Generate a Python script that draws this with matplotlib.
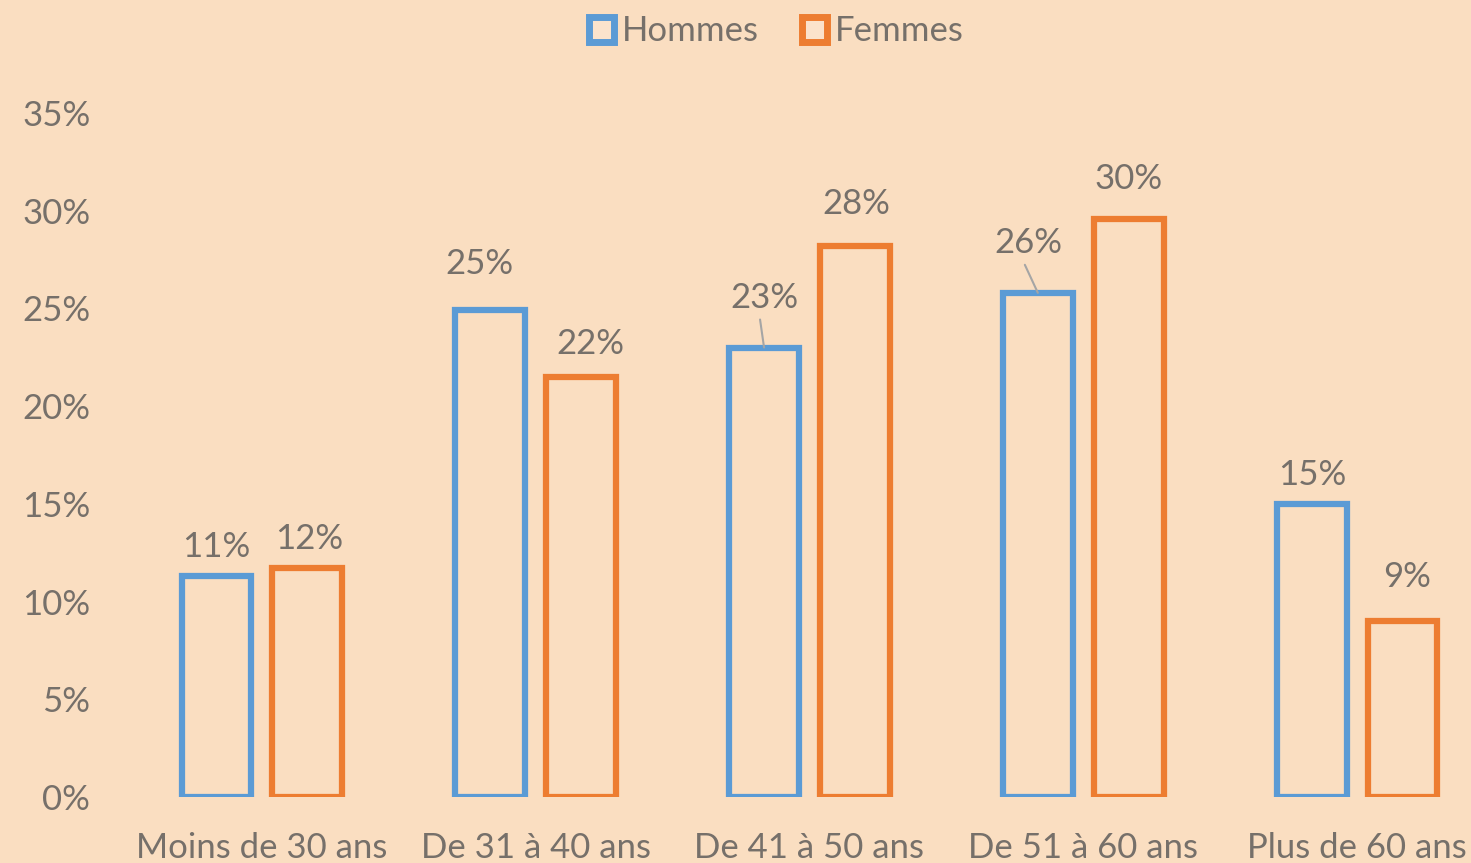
import matplotlib
matplotlib.use("Agg")
import matplotlib.pyplot as plt
import numpy as np
from matplotlib.lines import Line2D

categories = ["Moins de 30 ans", "De 31 à 40 ans", "De 41 à 50 ans", "De 51 à 60 ans", "Plus de 60 ans"]
hommes = [0.113, 0.249, 0.230, 0.258, 0.150]
femmes = [0.117, 0.215, 0.282, 0.296, 0.090]
hommes_labels = ["11%", "25%", "23%", "26%", "15%"]
femmes_labels = ["12%", "22%", "28%", "30%", "9%"]
yticks = [0, 0.05, 0.10, 0.15, 0.20, 0.25, 0.30, 0.35]
ytick_labels = ["0%", "5%", "10%", "15%", "20%", "25%", "30%", "35%"]

BG = "#FADEC1"
BLUE = "#5B9BD5"
ORANGE = "#ED7D31"
TXT = "#76706A"
FONT = "Lato"
FS = 25

W, H = 1471, 863
fig = plt.figure(figsize=(W/100, H/100), dpi=100, facecolor=BG)
left_px, right_px = 125, 1494
ax = fig.add_axes([left_px/W, 66/H, (right_px-left_px)/W, 684/H])
ax.set_facecolor(BG)

x = np.arange(len(categories))
bw = 0.255
off = 0.166
ax.bar(x - off, hommes, bw, facecolor=BG, edgecolor=BLUE, linewidth=4.5, zorder=3)
ax.bar(x + off, femmes, bw, facecolor=BG, edgecolor=ORANGE, linewidth=4.5, zorder=3)

ax.set_xlim(-0.5, 4.5)
ax.set_ylim(0, 0.35)
ax.set_yticks(yticks)
ax.set_yticklabels(ytick_labels)
ax.set_xticks(x)
ax.set_xticklabels(categories)
for s in ax.spines.values():
    s.set_visible(False)
ax.tick_params(axis="both", length=0, colors=TXT, labelsize=FS)
ax.tick_params(axis="y", pad=25)
ax.tick_params(axis="x", pad=25)
for lab in ax.get_xticklabels() + ax.get_yticklabels():
    lab.set_fontfamily(FONT)

# label offsets in pixels (dx, dy) relative to bar top center
h_off = [(0, 29), (-11, 46), (0, 50), (-9, 50), (1, 29)]
f_off = [(2, 29), (9, 33), (1, 42), (0, 40), (5, 44)]
h_leader = [False, False, True, True, False]

for i in range(len(categories)):
    dx, dy = h_off[i]
    ax.annotate(hommes_labels[i], (x[i] - off, hommes[i]), xytext=(dx, dy),
                textcoords="offset pixels", ha="center", va="center",
                fontsize=FS, color=TXT, fontfamily=FONT, zorder=5)
    if h_leader[i]:
        ax.annotate("", (x[i] - off, hommes[i]), xytext=(dx - 4, dy - 22),
                    textcoords="offset pixels",
                    arrowprops=dict(arrowstyle="-", color="#A5A5A5", lw=1.5,
                                    shrinkA=0, shrinkB=0), zorder=4)
    dx, dy = f_off[i]
    ax.annotate(femmes_labels[i], (x[i] + off, femmes[i]), xytext=(dx, dy),
                textcoords="offset pixels", ha="center", va="center",
                fontsize=FS, color=TXT, fontfamily=FONT, zorder=5)

handles = [
    Line2D([0], [0], marker="s", linestyle="none", markersize=18, markerfacecolor="#FBE3CC",
           markeredgecolor=BLUE, markeredgewidth=5, label="Hommes"),
    Line2D([0], [0], marker="s", linestyle="none", markersize=18, markerfacecolor="#FBE3CC",
           markeredgecolor=ORANGE, markeredgewidth=5, label="Femmes"),
]
leg = fig.legend(handles=handles, loc="center", bbox_to_anchor=(772/W, 1 - 31/H),
                 ncol=2, frameon=False, handletextpad=0.0,
                 columnspacing=1.0, handlelength=1.2, prop={"family": FONT, "size": FS})
for t in leg.get_texts():
    t.set_color(TXT)

fig.savefig("out.png", dpi=100, facecolor=BG)
